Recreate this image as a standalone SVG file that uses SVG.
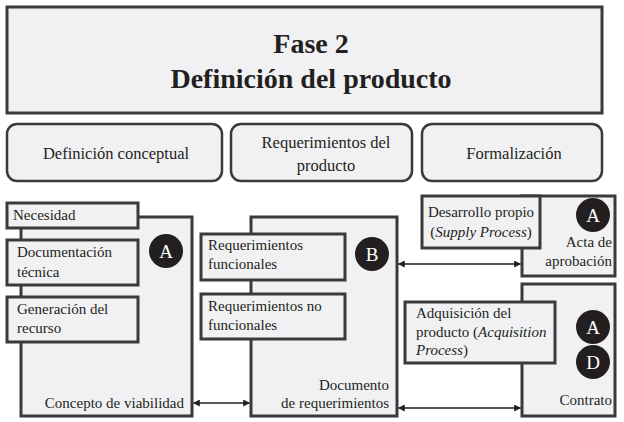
<svg xmlns="http://www.w3.org/2000/svg" width="624" height="422" viewBox="0 0 624 422">
<defs>
<style>
.box{fill:#f1f1f3;stroke:#3a3a3a;stroke-width:3}
.rbox{fill:#f1f1f3;stroke:#3a3a3a;stroke-width:2.5}
.t{font-family:"Liberation Serif","Times New Roman",serif;font-size:15px;fill:#231f20}
.tab{font-size:16.5px}
.h{font-family:"Liberation Serif","Times New Roman",serif;font-size:28px;font-weight:bold;fill:#231f20;text-anchor:middle}
.c{text-anchor:middle}
.r{text-anchor:end}
.dot{fill:#231f20}
.dl{font-family:"Liberation Serif","Times New Roman",serif;font-size:19px;fill:#ffffff;text-anchor:middle}
.con{stroke:#231f20;stroke-width:1.3;fill:none;marker-start:url(#ah);marker-end:url(#ah)}
</style>
<marker id="ah" viewBox="0 0 10 10" refX="9" refY="5" markerWidth="7" markerHeight="7" markerUnits="userSpaceOnUse" orient="auto-start-reverse">
<path d="M0,0 L10,5 L0,10 z" fill="#231f20"/>
</marker>
</defs>
<rect width="624" height="422" fill="#ffffff"/>

<g id="title">
<rect class="box" x="7" y="7" width="595" height="106"/>
<text class="h" x="311" y="53">Fase 2</text>
<text class="h" x="311" y="88">Definición del producto</text>
</g>

<g id="tab-definicion">
<rect class="rbox" x="7" y="124" width="215" height="57" rx="10"/>
<text class="t tab c" x="116" y="159">Definición conceptual</text>
</g>
<g id="tab-requerimientos">
<rect class="rbox" x="231" y="124" width="181" height="57" rx="10"/>
<text class="t tab c" x="326" y="148">Requerimientos del</text>
<text class="t tab c" x="326" y="171">producto</text>
</g>
<g id="tab-formalizacion">
<rect class="rbox" x="422" y="124" width="180" height="57" rx="10"/>
<text class="t tab c" x="514" y="159">Formalización</text>
</g>

<g id="concepto">
<rect class="box" x="21" y="217" width="171" height="199"/>
<circle class="dot" cx="166" cy="251" r="17"/>
<text class="dl" x="166" y="258">A</text>
<text class="t r" x="184" y="408">Concepto de viabilidad</text>
</g>
<g id="necesidad">
<rect class="box" x="7" y="203" width="131" height="25"/>
<text class="t" x="13" y="220">Necesidad</text>
</g>
<g id="documentacion">
<rect class="box" x="7" y="240" width="131" height="45"/>
<text class="t" x="17" y="257">Documentación</text>
<text class="t" x="17" y="277">técnica</text>
</g>
<g id="generacion">
<rect class="box" x="7" y="297" width="131" height="45"/>
<text class="t" x="17" y="314">Generación del</text>
<text class="t" x="17" y="333">recurso</text>
</g>

<g id="documento">
<rect class="box" x="251" y="217" width="146" height="199"/>
<circle class="dot" cx="372" cy="254" r="17"/>
<text class="dl" x="372" y="261">B</text>
<text class="t r" x="389" y="390">Documento</text>
<text class="t r" x="389" y="408">de requerimientos</text>
</g>
<g id="req-funcionales">
<rect class="box" x="201" y="234" width="144" height="46"/>
<text class="t" x="208" y="250">Requerimientos</text>
<text class="t" x="208" y="269">funcionales</text>
</g>
<g id="req-no-funcionales">
<rect class="box" x="201" y="294" width="144" height="45"/>
<text class="t" x="208" y="311">Requerimientos no</text>
<text class="t" x="208" y="330">funcionales</text>
</g>

<g id="acta">
<rect class="box" x="522" y="196" width="93" height="80"/>
<circle class="dot" cx="593" cy="215" r="17"/>
<text class="dl" x="593" y="222">A</text>
<text class="t r" x="612" y="247">Acta de</text>
<text class="t r" x="612" y="266">aprobación</text>
</g>
<g id="desarrollo">
<rect class="box" x="422" y="196" width="118" height="52"/>
<text class="t c" x="481" y="217">Desarrollo propio</text>
<text class="t c" x="481" y="237">(<tspan font-style="italic">Supply Process</tspan>)</text>
</g>

<g id="contrato">
<rect class="box" x="522" y="284" width="93" height="132"/>
<circle class="dot" cx="593" cy="327" r="17"/>
<text class="dl" x="593" y="334">A</text>
<circle class="dot" cx="593" cy="362" r="17"/>
<text class="dl" x="593" y="369">D</text>
<text class="t r" x="612" y="405">Contrato</text>
</g>
<g id="adquisicion">
<rect class="box" x="405" y="302" width="150" height="61"/>
<text class="t" x="416" y="318">Adquisición del</text>
<text class="t" x="416" y="337">producto (<tspan font-style="italic">Acquisition</tspan></text>
<text class="t" x="416" y="355"><tspan font-style="italic">Process</tspan>)</text>
</g>

<g id="connectors">
<line class="con" x1="193.5" y1="403" x2="249.5" y2="403"/>
<line class="con" x1="398.5" y1="264" x2="520.5" y2="264"/>
<line class="con" x1="398.5" y1="408" x2="520.5" y2="408"/>
</g>
</svg>
